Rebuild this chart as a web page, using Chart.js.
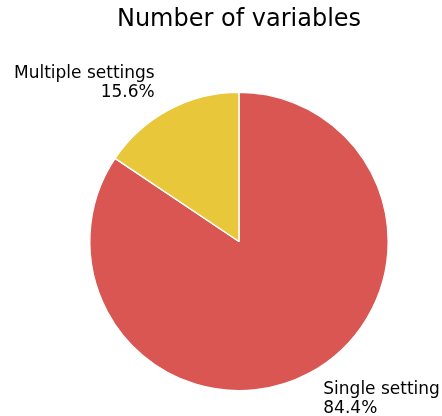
<!DOCTYPE html>
<html>
<head>
<meta charset="utf-8">
<script src="https://cdn.jsdelivr.net/npm/chart.js@4"></script>
<style>
  html, body { margin: 0; padding: 0; background: #ffffff; }
  #wrap { width: 442px; height: 416px; position: relative; }
</style>
</head>
<body>
<div id="wrap"><canvas id="pieChart" width="442" height="416"></canvas></div>
<script>
// Data
const categories = ['Single setting', 'Multiple settings'];
const shares = [84.4, 15.6];
const sliceColors = ['#d95652', '#e8c73b'];
const chartTitle = 'Number of variables';

// Draws title and matplotlib-style outside labels
const pieLabels = {
    id: 'pieLabels',
    afterDraw(chart) {
        const ctx = chart.ctx;
        ctx.save();
        ctx.fillStyle = '#000000';
        ctx.font = '24px "DejaVu Sans"';
        ctx.textAlign = 'center';
        ctx.textBaseline = 'middle';
        ctx.fillText(chartTitle, 239, 20);

        ctx.font = '17px "DejaVu Sans"';
        const arcs = chart.getDatasetMeta(0).data;
        arcs.forEach((arc, i) => {
            const mid = (arc.startAngle + arc.endAngle) / 2;
            const r = arc.outerRadius * 1.2;
            const x = arc.x + Math.cos(mid) * r;
            const y = arc.y + Math.sin(mid) * r;
            const lines = [categories[i], shares[i].toFixed(1) + '%'];
            ctx.textAlign = x < arc.x ? 'right' : 'left';
            ctx.fillText(lines[0], x, y - 9.5);
            ctx.fillText(lines[1], x, y + 9.5);
        });
        ctx.restore();
    }
};

const ctx = document.getElementById('pieChart').getContext('2d');
const pieChart = new Chart(ctx, {
    type: 'pie',
    data: {
        labels: categories,
        datasets: [{
            data: shares,
            backgroundColor: sliceColors,
            borderColor: '#ffffff',
            borderWidth: 1.5
        }]
    },
    options: {
        responsive: false,
        animation: false,
        layout: {
            padding: { top: 91, bottom: 24, left: 89, right: 53 }
        },
        plugins: {
            legend: { display: false },
            tooltip: { enabled: false }
        }
    },
    plugins: [pieLabels]
});
</script>
</body>
</html>
